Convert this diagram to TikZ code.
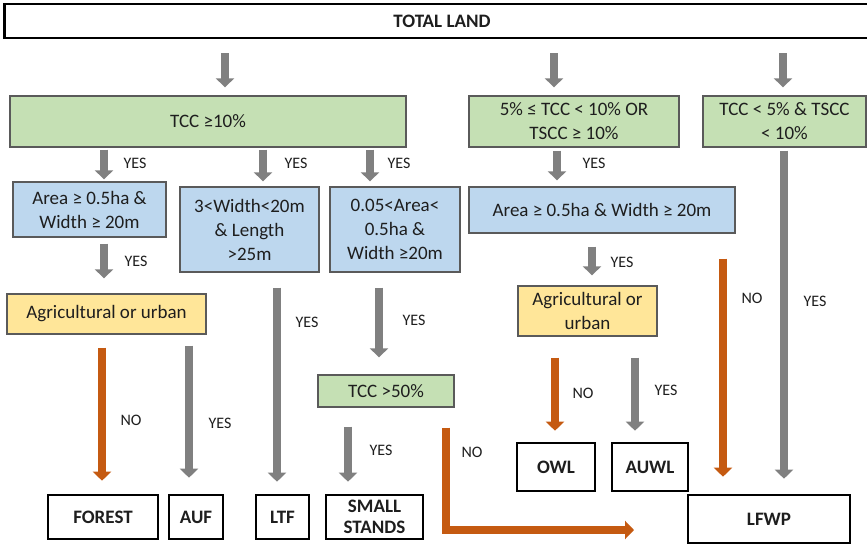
\documentclass[tikz,border=0pt]{standalone}
\usepackage{fontspec}
\setmainfont{Carlito}
\usetikzlibrary{arrows.meta}
\definecolor{arrgray}{RGB}{128,128,128}
\definecolor{arrorange}{RGB}{197,90,17}
\definecolor{boxgreen}{RGB}{197,224,180}
\definecolor{boxblue}{RGB}{189,215,238}
\definecolor{boxyellow}{RGB}{255,230,153}
\definecolor{boxline}{RGB}{90,90,90}
\definecolor{txt}{RGB}{30,30,30}
\begin{document}
\begin{tikzpicture}[x=1pt,y=-1pt,
  every node/.style={font=\fontsize{19}{24}\selectfont, text=txt, inner sep=0pt, align=center},
  cond/.style={draw=boxline, line width=1.3pt},
  green/.style={cond, fill=boxgreen},
  blue/.style={cond, fill=boxblue},
  yellow/.style={cond, fill=boxyellow},
  result/.style={draw=black, line width=2.6pt, fill=white, font=\bfseries\fontsize{19}{21}\selectfont},
  lbl/.style={font=\fontsize{16}{18}\selectfont, text=txt},
  garr/.style={draw=arrgray, line width=8pt, -{Triangle[width=18pt,length=9pt]}},
  oarr/.style={draw=arrorange, line width=8pt, -{Triangle[width=18pt,length=9pt]}},
  gaps/.style 2 args={shorten <=#1, shorten >=#2}]
\useasboundingbox (0,0) rectangle (867,545);

% columns of the vertical arrows
\coordinate (cA) at (225,0);
\coordinate (cB) at (554,0);
\coordinate (cC) at (783,0);
\coordinate (cD) at (104,0);
\coordinate (cE) at (263,0);
\coordinate (cF) at (370,0);
\coordinate (cG) at (557,0);
\coordinate (cH) at (277,0);
\coordinate (cI) at (379,0);
\coordinate (cJ) at (102,0);
\coordinate (cK) at (189,0);
\coordinate (cL) at (348,0);
\coordinate (cM) at (592,0);
\coordinate (cN) at (555,0);
\coordinate (cO) at (635,0);
\coordinate (cP) at (723,0);
\coordinate (cQ) at (784,0);
\coordinate (cR) at (446,0);

% boxes
\node[result, minimum width=875pt, minimum height=34pt] (total) at (442,21) {TOTAL LAND};
\node[green, minimum width=396pt, minimum height=51pt] (g1) at (208,121.5) {TCC ≥10\%};
\node[green, minimum width=210pt, minimum height=51pt] (g2) at (574,121.5) {5\% ≤ TCC < 10\% OR\\TSCC ≥ 10\%};
\node[green, minimum width=163pt, minimum height=51pt] (g3) at (784.5,121.5) {TCC < 5\% \& TSCC\\< 10\%};
\node[blue, minimum width=153pt, minimum height=55pt] (b1) at (89.5,209.5) {Area ≥ 0.5ha \&\\Width ≥ 20m};
\node[blue, minimum width=139pt, minimum height=85pt] (b2) at (249.5,229.5) {3<Width<20m\\\& Length\\>25m};
\node[blue, minimum width=130pt, minimum height=85pt] (b3) at (395,229.5) {0.05<Area<\\0.5ha \&\\Width ≥20m};
\node[blue, minimum width=266pt, minimum height=46pt] (b4) at (602,210) {Area ≥ 0.5ha \& Width ≥ 20m};
\node[yellow, minimum width=199pt, minimum height=40pt] (y1) at (106.5,314) {Agricultural or urban};
\node[yellow, minimum width=139pt, minimum height=50pt] (y2) at (587.5,311) {Agricultural or\\urban};
\node[green, minimum width=136pt, minimum height=32pt] (t50) at (386,391) {TCC >50\%};
\node[result, minimum width=110pt, minimum height=44pt] (forest) at (103,517) {FOREST};
\node[result, minimum width=54pt, minimum height=44pt] (auf) at (196,517) {AUF};
\node[result, minimum width=53pt, minimum height=44pt] (ltf) at (282.5,517) {LTF};
\node[result, minimum width=97pt, minimum height=44pt] (small) at (374.5,517) {SMALL\\STANDS};
\node[result, minimum width=78pt, minimum height=48pt] (owl) at (556,467) {OWL};
\node[result, minimum width=76pt, minimum height=48pt] (auwl) at (650,467) {AUWL};
\node[result, minimum width=162pt, minimum height=48pt] (lfwp) at (769,519) {LFWP};
\coordinate (noend) at (634,530);

% connectors
\draw[garr, gaps={14pt}{8pt}] (total.south -| cA) -- (g1.north -| cA);
\draw[garr, gaps={14pt}{8pt}] (total.south -| cB) -- (g2.north -| cB);
\draw[garr, gaps={14pt}{8pt}] (total.south -| cC) -- (g3.north -| cC);
\draw[garr, gaps={2pt}{2pt}] (g1.south -| cD) -- (b1.north -| cD);
\draw[garr, gaps={2pt}{5pt}] (g1.south -| cE) -- (b2.north -| cE);
\draw[garr, gaps={2pt}{5pt}] (g1.south -| cF) -- (b3.north -| cF);
\draw[garr, gaps={3pt}{6pt}] (g2.south -| cG) -- (b4.north -| cG);
\draw[garr, gaps={6pt}{15pt}] (b1.south -| cD) -- (y1.north -| cD);
\draw[garr, gaps={15pt}{12pt}] (b2.south -| cH) -- (ltf.north -| cH);
\draw[garr, gaps={15pt}{17pt}] (b3.south -| cI) -- (t50.north -| cI);
\draw[oarr, gaps={13pt}{13pt}] (y1.south -| cJ) -- (forest.north -| cJ);
\draw[garr, gaps={11pt}{16pt}] (y1.south -| cK) -- (auf.north -| cK);
\draw[garr, gaps={19pt}{12pt}] (t50.south -| cL) -- (small.north -| cL);
\draw[oarr, shorten <=20pt] (t50.south -| cR) |- (noend);
\draw[garr, gaps={13pt}{10pt}] (b4.south -| cM) -- (y2.north -| cM);
\draw[oarr, gaps={21pt}{11pt}] (y2.south -| cN) -- (owl.north -| cN);
\draw[garr, gaps={21pt}{11pt}] (y2.south -| cO) -- (auwl.north -| cO);
\draw[oarr, gaps={25pt}{17pt}] (b4.south -| cP) -- (lfwp.north -| cP);
\draw[garr, gaps={3pt}{15pt}] (g3.south -| cQ) -- (lfwp.north -| cQ);

% branch labels
\node[lbl] (l1) at (135,163) {YES};
\node[lbl] (l2) at (296,163) {YES};
\node[lbl] (l3) at (399,163) {YES};
\node[lbl] (l4) at (594,163) {YES};
\node[lbl] (l5) at (136,261) {YES};
\node[lbl] (l6) at (307,322) {YES};
\node[lbl] (l7) at (414,320) {YES};
\node[lbl] (l8) at (131,420) {NO};
\node[lbl] (l9) at (220,423) {YES};
\node[lbl] (l10) at (381,450) {YES};
\node[lbl] (l11) at (472,452) {NO};
\node[lbl] (l12) at (622,262) {YES};
\node[lbl] (l13) at (583,393) {NO};
\node[lbl] (l14) at (666,390) {YES};
\node[lbl] (l15) at (752,298) {NO};
\node[lbl] (l16) at (815,301) {YES};
\end{tikzpicture}
\end{document}
